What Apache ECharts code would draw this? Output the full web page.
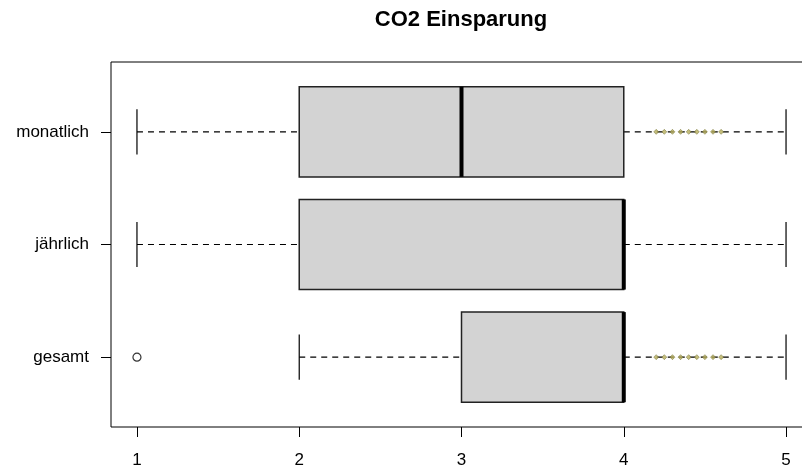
<!DOCTYPE html>
<html><head><meta charset="utf-8">
<script src="https://cdn.jsdelivr.net/npm/echarts@6/dist/echarts.min.js"></script>
<style>html,body{margin:0;padding:0;background:#fff}#c{width:802px;height:471px}</style>
</head><body><div id="c"></div>
<script>
// bottom to top (R order)
const categories = ['gesamt', 'jährlich', 'monatlich'];
const mins    = [2, 1, 1];
const q1s     = [3, 2, 2];
const medians = [4, 4, 3];
const q3s     = [4, 4, 4];
const maxs    = [5, 5, 5];
const outliers = [[1, 1]]; // [value, group position]
const xTicks = [1, 2, 3, 4, 5];
const marks = [4.2, 4.25, 4.3, 4.35, 4.4, 4.45, 4.5, 4.55, 4.6]; // small yellowish marks on whiskers
const markGroups = [1, 3];

const FONT = 'Liberation Sans, Arial, sans-serif';
const boxData = categories.map((c, i) => [i + 1, mins[i], q1s[i], medians[i], q3s[i], maxs[i]]);
const markData = [];
markGroups.forEach(g => marks.forEach(v => markData.push([v, g])));

const chart = echarts.init(document.getElementById('c'), null, {renderer: 'canvas'});
chart.setOption({
  animation: false,
  backgroundColor: '#fff',
  grid: {left: 111, width: 701, top: 62, bottom: 44, outerBoundsMode: 'none', containLabel: false,
    show: true, borderColor: '#000', borderWidth: 1, backgroundColor: 'transparent'},
  graphic: [{
    type: 'text', x: 461, y: 20,
    style: {text: 'CO2 Einsparung', font: 'bold 22px ' + FONT, fill: '#000', textAlign: 'center', textVerticalAlign: 'middle'}
  }],
  xAxis: {
    type: 'value', min: 0.84, max: 5.16,
    axisLine: {show: false},
    splitLine: {show: false},
    axisTick: {show: true, length: 10, lineStyle: {color: '#000'}, customValues: xTicks},
    axisLabel: {customValues: xTicks, fontFamily: FONT, fontSize: 17, color: '#000', margin: 25}
  },
  yAxis: {
    type: 'value', min: 0.38, max: 3.62,
    axisLine: {show: false},
    splitLine: {show: false},
    axisTick: {show: true, length: 10, lineStyle: {color: '#000'}, customValues: [1, 2, 3]},
    axisLabel: {customValues: [1, 2, 3], fontFamily: FONT, fontSize: 17, color: '#000', margin: 22,
      formatter: v => categories[Math.round(v) - 1] || ''}
  },
  series: [{
    type: 'custom',
    data: boxData,
    clip: false,
    encode: {x: [1, 2, 3, 4, 5], y: 0},
    renderItem: function (params, api) {
      const pos = api.value(0);
      const mn = api.value(1), q1 = api.value(2), md = api.value(3), q3 = api.value(4), mx = api.value(5);
      const h = api.size([0, 0.8])[1];
      const cap = api.size([0, 0.4])[1];
      const pMin = api.coord([mn, pos]), pQ1 = api.coord([q1, pos]), pMd = api.coord([md, pos]);
      const pQ3 = api.coord([q3, pos]), pMx = api.coord([mx, pos]);
      const y = pQ1[1];
      const dash = {stroke: '#000', lineWidth: 1.2, lineDash: [6, 5]};
      const solid = {stroke: '#000', lineWidth: 1.2};
      return {
        type: 'group',
        children: [
          {type: 'line', shape: {x1: pMin[0], y1: y, x2: pQ1[0], y2: y}, style: dash},
          {type: 'line', shape: {x1: pQ3[0], y1: y, x2: pMx[0], y2: y}, style: dash},
          {type: 'line', shape: {x1: pMin[0], y1: y - cap / 2, x2: pMin[0], y2: y + cap / 2}, style: solid},
          {type: 'line', shape: {x1: pMx[0], y1: y - cap / 2, x2: pMx[0], y2: y + cap / 2}, style: solid},
          {type: 'rect', shape: {x: pQ1[0], y: y - h / 2, width: pQ3[0] - pQ1[0], height: h},
            style: {fill: '#d3d3d3', stroke: '#222', lineWidth: 1.5}},
          {type: 'line', shape: {x1: pMd[0], y1: y - h / 2, x2: pMd[0], y2: y + h / 2},
            style: {stroke: '#000', lineWidth: 4}}
        ]
      };
    }
  }, {
    type: 'scatter',
    data: markData,
    symbol: 'diamond', symbolSize: 5,
    itemStyle: {color: '#b5ad5a', borderColor: '#6b6b30', borderWidth: 0.6},
    z: 5
  }, {
    type: 'scatter',
    data: outliers,
    symbol: 'circle', symbolSize: 8,
    itemStyle: {color: '#fff', borderColor: '#000', borderWidth: 1.2},
    z: 6
  }]
});
</script>
</body></html>
